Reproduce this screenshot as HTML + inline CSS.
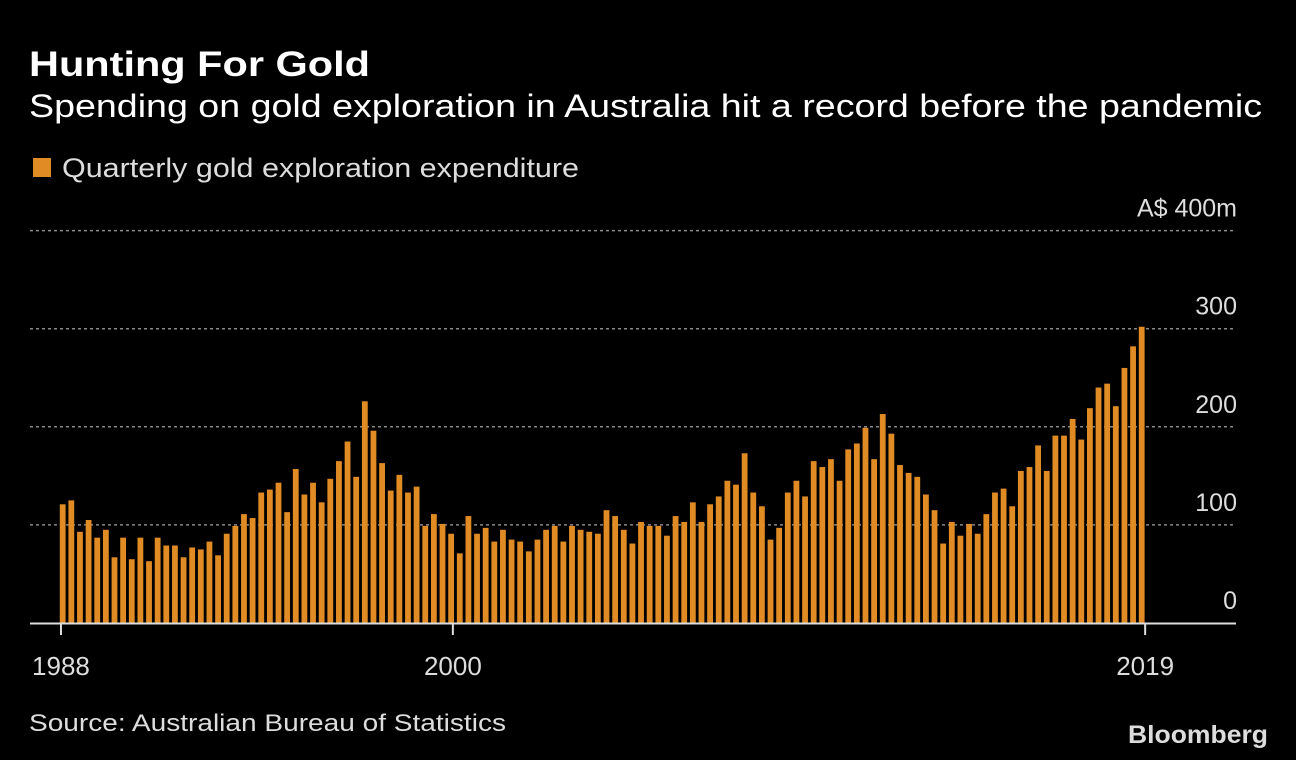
<!DOCTYPE html>
<html><head><meta charset="utf-8"><style>
html,body{margin:0;padding:0;background:#000;width:1296px;height:760px;overflow:hidden}
svg{display:block;font-family:"Liberation Sans",sans-serif}
</style></head><body>
<svg id="chart" width="1296" height="760" viewBox="0 0 1296 760">
<text x="29" y="76" fill="#fff" font-size="35" font-weight="bold" textLength="341" lengthAdjust="spacingAndGlyphs">Hunting For Gold</text>
<text x="29" y="117" fill="#fff" font-size="32" textLength="1233" lengthAdjust="spacingAndGlyphs">Spending on gold exploration in Australia hit a record before the pandemic</text>
<rect x="33" y="158" width="18" height="19" fill="#e08b24"/>
<text x="62" y="177" fill="#ddd" font-size="27" textLength="517" lengthAdjust="spacingAndGlyphs">Quarterly gold exploration expenditure</text>
<g id="grid"></g><g id="bars"></g><g id="axis"></g>
<text x="29" y="731" fill="#ddd" font-size="24" textLength="477" lengthAdjust="spacingAndGlyphs">Source: Australian Bureau of Statistics</text>
<text x="1268" y="743" fill="#ddd" font-size="25" font-weight="bold" text-anchor="end" textLength="140" lengthAdjust="spacingAndGlyphs">Bloomberg</text>
</svg>
<script>
const values = [121,125,93,105,87,95,67,87,65,87,63,87,79,79,67,77,75,83,69,91,99,111,107,133,136,143,113,157,131,143,123,147,
165,185,149,226,196,163,135,151,133,139,99,111,101,91,71,109,91,97,83,95,85,83,73,85,95,99,83,99,95,93,91,
115,109,95,81,103,99,99,89,109,103,123,103,121,129,145,141,173,133,119,85,97,133,145,129,165,159,167,145,177,183,199,
167,213,193,161,153,149,131,115,81,103,89,101,91,111,133,137,119,155,159,181,155,191,191,208,187,219,240,244,221,260,282,302];
const yTicks = [0,100,200,300,400];
const yTickLabels = ["0","100","200","300","A$ 400m"];
const xTickLabels = ["1988","2000","2019"];
const xTickIndex = [-0.2,45.2,125.4];
const NS="http://www.w3.org/2000/svg";
const x0=62.7, pitch=8.632, y0=623, ppu=0.981, bw=5.8;
const xs=i=>x0+i*pitch, ys=v=>y0-v*ppu;
function mk(t,a,p){const e=document.createElementNS(NS,t);for(const k in a)e.setAttribute(k,a[k]);p.appendChild(e);return e;}
const grid=document.getElementById('grid'),bars=document.getElementById('bars'),axis=document.getElementById('axis');
yTicks.forEach((v,i)=>{
  if(v>0){const l=mk('line',{x1:30,x2:1236,y1:ys(v),y2:ys(v),stroke:'#888','stroke-width':1.5,'stroke-dasharray':'3,3'},grid);
  
  }
  const t=mk('text',{x:1237,y:ys(v)-14,fill:'#ddd','font-size':25,'text-anchor':'end'},grid);
  t.textContent=yTickLabels[i];
  
  
});
values.forEach((v,i)=>{
  const r=mk('rect',{x:xs(i)-bw/2,y:ys(v),width:bw,height:v*ppu,fill:'#e08b24'},bars);
  
  
});
const ax=mk('line',{x1:30,x2:1236,y1:y0+0.5,y2:y0+0.5,stroke:'#ddd','stroke-width':2},axis);


xTickLabels.forEach((s,i)=>{
  const x=xs(xTickIndex[i]);
  const tk=mk('line',{x1:x,x2:x,y1:y0,y2:y0+12,stroke:'#ddd','stroke-width':2},axis);
  
  
  const t=mk('text',{x:x,y:675,fill:'#ddd','font-size':26,'text-anchor':'middle'},axis);
  t.textContent=s;
  
  
});
</script>
</body></html>
